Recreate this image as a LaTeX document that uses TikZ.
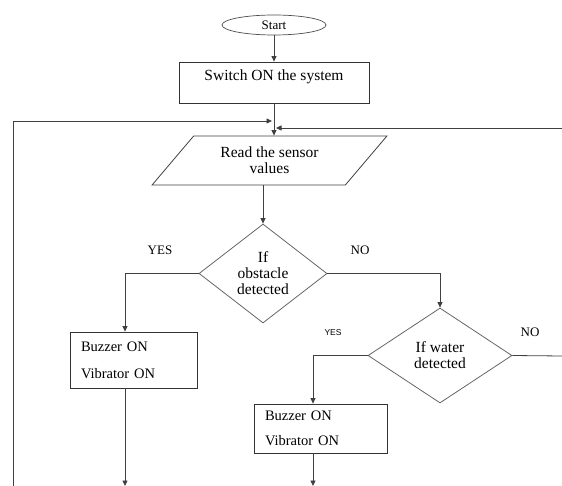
\documentclass[tikz,border=0pt]{standalone}
\usepackage{fontspec}
\setmainfont{Liberation Serif}
\newfontfamily\labelsans{Liberation Sans}
\usetikzlibrary{positioning,arrows.meta,shapes.geometric,calc}

\begin{document}
\begin{tikzpicture}[
  x=1pt, y=-1pt,
  font=\fontsize{15.5}{17}\selectfont,
  flowline/.style={draw=black!75, line width=0.8pt},
  arr/.style={flowline, -{Triangle[length=5.5pt,width=5pt]}},
  terminal/.style={ellipse, draw=black!70, line width=0.7pt, minimum width=104pt, minimum height=20pt, inner sep=0pt, font=\fontsize{13}{15}\selectfont},
  process/.style={rectangle, draw=black!80, line width=0.8pt, inner sep=0pt},
  io/.style={trapezium, trapezium left angle=45, trapezium right angle=135, trapezium stretches=true, draw=black!75, line width=0.8pt, align=center, inner sep=0pt, font=\fontsize{15.5}{16}\selectfont},
  decision/.style={diamond, draw=black!60, line width=0.8pt, align=center, inner sep=0pt, font=\fontsize{15.5}{16}\selectfont},
  action/.style={process, align=left, inner xsep=11pt},
  lbl/.style={inner sep=0pt, font=\fontsize{13}{15}\selectfont},
]
\useasboundingbox (0,0) rectangle (562,486);

% ---------------- start and set-up ----------------
\node[terminal] (start) at (274,25) {Start};
\node[process, minimum width=190pt, minimum height=41pt, text height=10pt, text depth=14pt] (switch) at (274,82.5) {Switch ON the system};
\node[io, minimum width=235pt, minimum height=49pt] (read) at (269.5,160.5) {Read the sensor\\values};
\draw[arr] (start) -- (switch);
\draw[arr] (switch.south) -- (switch.south |- read.north);

% ---------------- loop-back lines ----------------
\coordinate (loopL) at (13,486);
\coordinate (mergeL) at (272,121);
\coordinate (loopR) at (562,128);
\coordinate (mergeR) at (276,128);
\draw[arr] (loopL) |- (mergeL);
\draw[arr] (loopR) -- (mergeR);

% ---------------- decisions ----------------
\node[decision, minimum width=128pt, minimum height=99pt] (obstacle) at (263,273.5) {If\\obstacle\\detected};
\node[decision, minimum width=144pt, minimum height=95pt] (water) at (440,355.5) {If water\\detected};
\node[lbl] (yesA) at (160,250) {YES};
\node[lbl] (noA) at (360,250) {NO};
\node[lbl, font=\labelsans\fontsize{8.5}{10}\selectfont] (yesB) at (333,333) {YES};
\node[lbl] (noB) at (530,332) {NO};
\draw[arr] (read.south -| obstacle.north) -- (obstacle.north);
\draw[arr] (obstacle.east) -| (water.north);

% ---------------- alarm boxes ----------------
\coordinate (endA) at (125,486);
\coordinate (endB) at (313,486);
\coordinate (exitR) at (562,356);
\node[action, text width=105pt, minimum height=56pt, font=\fontsize{14.5}{27}\selectfont] (buzzA) at (133.5,360) {Buzzer ON\\Vibrator ON};
\node[action, text width=111pt, minimum height=49pt, font=\fontsize{14.5}{25}\selectfont] (buzzB) at (320.5,428.5) {Buzzer ON\\Vibrator ON};
\draw[arr] (obstacle.west) -| (endA |- buzzA.north);
\draw[arr] (water.west) -| (endB |- buzzB.north);
\draw[flowline] (water.east) -- (exitR);
\draw[arr] (endA |- buzzA.south) -- (endA);
\draw[arr] (endB |- buzzB.south) -- (endB);

\end{tikzpicture}
\end{document}
